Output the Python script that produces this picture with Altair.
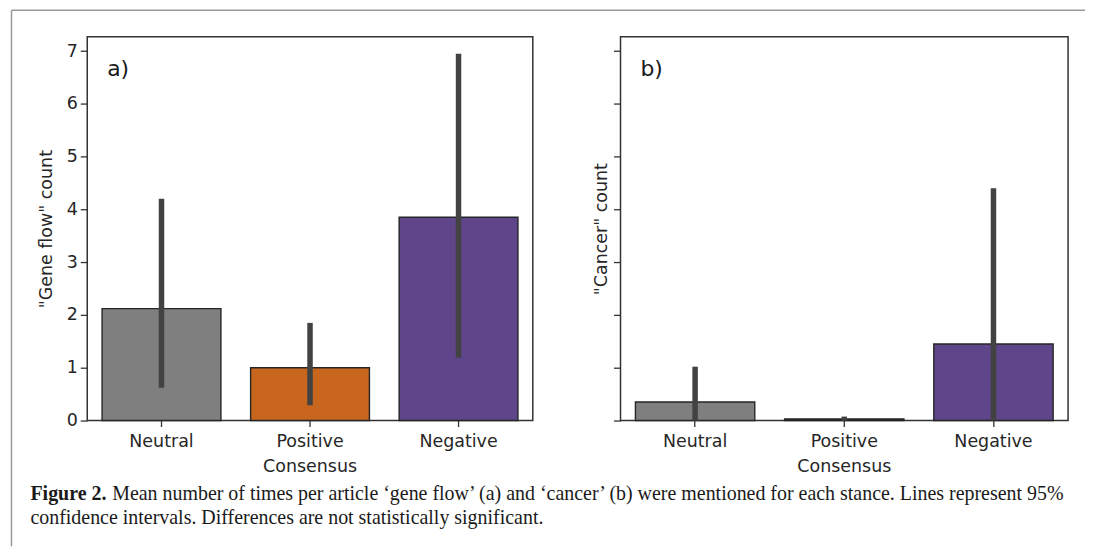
import altair as alt
import pandas as pd

stances = ["Neutral", "Positive Consensus", "Negative"]
colors = ["#7f7f7f", "#c8661e", "#5f468a"]

gene_mean = [2.12, 1.00, 3.85]
gene_lo = [0.62, 0.29, 1.19]
gene_hi = [4.20, 1.85, 6.95]

cancer_mean = [0.35, 0.03, 1.45]
cancer_lo = [0.0, 0.0, 0.0]
cancer_hi = [1.02, 0.075, 4.40]

y_ticks = [0, 1, 2, 3, 4, 5, 6, 7]
y_max = 7.27

caption_bold = ["Figure 2."]
caption_lines = [
    "Mean number of times per article \u2018gene flow\u2019 (a) and \u2018cancer\u2019 (b) were mentioned for each stance. Lines represent 95%",
    "confidence intervals. Differences are not statistically significant.",
]

FONT = "DejaVu Sans"
FS = 17.5
CAP_FONT = "Liberation Serif"
CAP_FS = 20


def panel(mean, lo, hi, ytitle, letter, show_labels, width, title_pad):
    df = pd.DataFrame({"stance": stances, "mean": mean, "lo": lo, "hi": hi})
    xenc = alt.X(
        "stance:N",
        sort=stances,
        title=None,
        scale=alt.Scale(paddingInner=0.2, paddingOuter=0.1),
        axis=alt.Axis(
            labelAngle=0,
            labelExpr="split(datum.label, ' ')",
            labelLineHeight=25,
            labelPadding=6,
            tickSize=6,
            domain=False,
        ),
    )
    yaxis = alt.Axis(
        values=y_ticks,
        title=ytitle,
        labels=show_labels,
        grid=False,
        domain=False,
        tickSize=7,
        labelPadding=3,
        titlePadding=title_pad,
    )
    yscale = alt.Scale(domain=[0, y_max], nice=False, zero=True)
    bars = alt.Chart(df).mark_bar(stroke="#262626", strokeWidth=1.4).encode(
        x=xenc,
        y=alt.Y("mean:Q", scale=yscale, axis=yaxis),
        color=alt.Color("stance:N", scale=alt.Scale(domain=stances, range=colors), legend=None),
    )
    err = alt.Chart(df).mark_rule(color="#424242", strokeWidth=5.5).encode(
        x=alt.X("stance:N", sort=stances),
        y=alt.Y("lo:Q", scale=yscale, axis=yaxis),
        y2="hi:Q",
    )
    lab = alt.Chart(pd.DataFrame({"t": [letter]})).mark_text(
        align="left", baseline="middle", font=FONT, fontSize=22, color="#1a1a1a"
    ).encode(x=alt.value(20), y=alt.value(32), text="t:N")
    return alt.layer(bars, err, lab).properties(width=width, height=385)


a = panel(gene_mean, gene_lo, gene_hi, '"Gene flow" count', "a)", True, 447, 11)
b = panel(cancer_mean, cancer_lo, cancer_hi, '"Cancer" count', "b)", False, 449, 2)

# page frame (light grey lines) and caption, drawn relative to panel a
frame_top = alt.Chart(pd.DataFrame({"k": [0]})).mark_rule(color="#9a9a9a", strokeWidth=1.5).encode(
    x=alt.value(-76), x2=alt.value(1001), y=alt.value(-26.5)
)
frame_left = alt.Chart(pd.DataFrame({"k": [0]})).mark_rule(color="#9a9a9a", strokeWidth=1.5).encode(
    x=alt.value(-76), y=alt.value(-26.5), y2=alt.value(511)
)
cap_b = alt.Chart(pd.DataFrame({"t": caption_bold})).mark_text(
    align="left", baseline="alphabetic", font=CAP_FONT, fontSize=CAP_FS, fontWeight="bold", color="#1a1a1a"
).encode(x=alt.value(-57), y=alt.value(465), text="t:N")
cap1 = alt.Chart(pd.DataFrame({"t": caption_lines[:1]})).mark_text(
    align="left", baseline="alphabetic", font=CAP_FONT, fontSize=CAP_FS, color="#1a1a1a"
).encode(x=alt.value(25), y=alt.value(465), text="t:N")
cap2 = alt.Chart(pd.DataFrame({"t": caption_lines[1:]})).mark_text(
    align="left", baseline="alphabetic", font=CAP_FONT, fontSize=CAP_FS, color="#1a1a1a"
).encode(x=alt.value(-57), y=alt.value(489), text="t:N")

a_full = alt.layer(a, frame_top, frame_left, cap_b, cap1, cap2)

chart = (
    alt.hconcat(a_full, b, spacing=88, bounds="flush")
    .properties(padding={"left": 1.5, "top": 0, "right": 0, "bottom": 0})
    .configure_view(stroke="#333333", strokeWidth=1.5)
    .configure_axis(
        labelFont=FONT,
        labelFontSize=FS,
        labelColor="#262626",
        titleFont=FONT,
        titleFontSize=FS,
        titleFontWeight="normal",
        titleColor="#262626",
        tickColor="#333333",
        tickWidth=1.3,
    )
)

chart.save("out.html", embed_options={"renderer": "svg", "actions": False})
